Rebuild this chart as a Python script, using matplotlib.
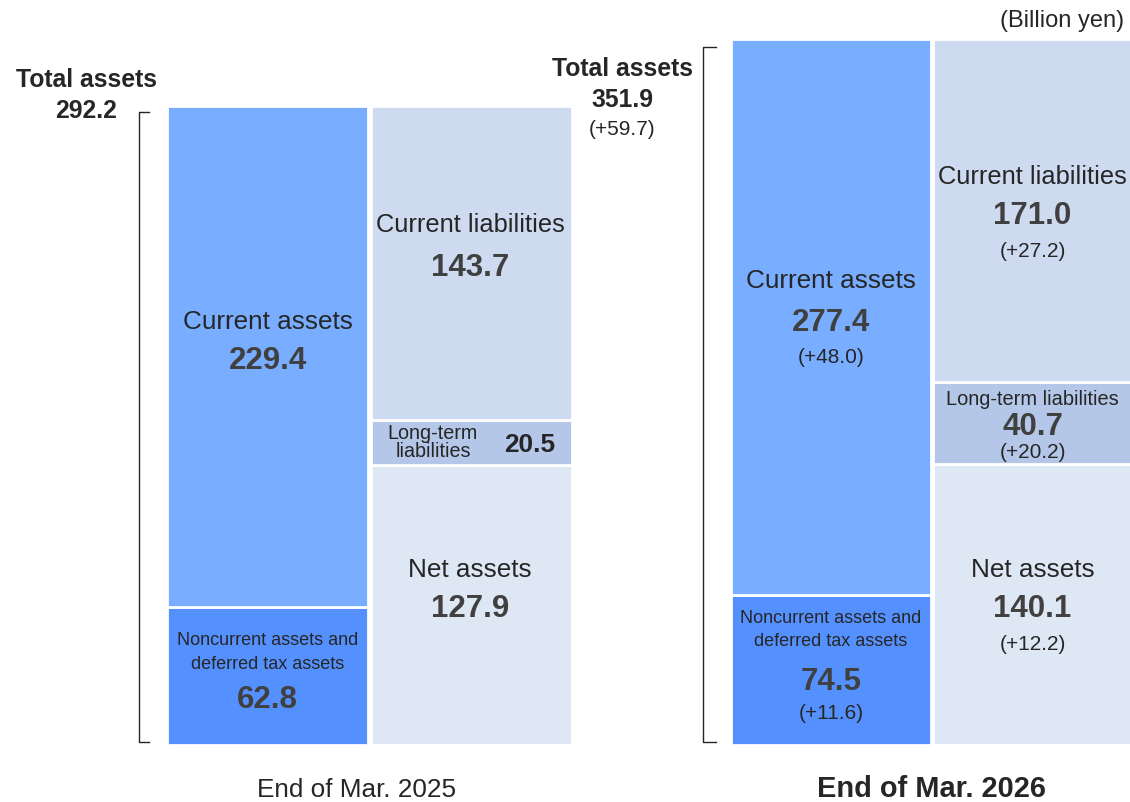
import matplotlib.pyplot as plt
from matplotlib.lines import Line2D

plt.rcParams["font.family"] = ["Liberation Sans", "DejaVu Sans"]

# ---------------------------------------------------------------------------
# Data (billion yen)
# ---------------------------------------------------------------------------
PERIODS = ["End of Mar. 2025", "End of Mar. 2026"]
TOTAL_ASSETS = [292.2, 351.9]
CURRENT_ASSETS = [229.4, 277.4]
NONCURRENT_ASSETS = [62.8, 74.5]
CURRENT_LIAB = [143.7, 171.0]
LONGTERM_LIAB = [20.5, 40.7]
NET_ASSETS = [127.9, 140.1]

# year-on-year changes as printed (2026 only)
CHG_TOTAL = "+59.7"
CHG_CURRENT_ASSETS = "+48.0"
CHG_NONCURRENT = "+11.6"
CHG_CURRENT_LIAB = "+27.2"
CHG_LONGTERM_LIAB = "+20.2"
CHG_NET_ASSETS = "+12.2"

# ---------------------------------------------------------------------------
# Styling
# ---------------------------------------------------------------------------
C_CUR_ASSET = "#78ADFF"
C_NONCUR = "#5590FF"
C_CUR_LIAB = "#CDDAF0"
C_LT_LIAB = "#B4C7E8"
C_NET = "#DEE8F4"
TXT = "#262626"
NUM = "#404040"

W, H = 1130, 802
fig = plt.figure(figsize=(W / 100, H / 100), dpi=100)


def px_rect(left, top, right, bottom):
    """Axes rect in figure fractions from pixel edges (y measured from top)."""
    return [left / W, 1 - bottom / H, (right - left) / W, (bottom - top) / H]


def put(x, y, s, size, bold=False, color=TXT, ha="center"):
    fig.text(x / W, 1 - y / H, s, fontsize=size, ha=ha, va="baseline",
             fontweight="bold" if bold else "normal", color=color)


def draw_group(ax, i):
    kw = dict(width=0.99, edgecolor="white", linewidth=2)
    ax.bar(0, NONCURRENT_ASSETS[i], color=C_NONCUR, **kw)
    ax.bar(0, CURRENT_ASSETS[i], bottom=NONCURRENT_ASSETS[i], color=C_CUR_ASSET, **kw)
    ax.bar(1, NET_ASSETS[i], color=C_NET, **kw)
    ax.bar(1, LONGTERM_LIAB[i], bottom=NET_ASSETS[i], color=C_LT_LIAB, **kw)
    ax.bar(1, CURRENT_LIAB[i], bottom=NET_ASSETS[i] + LONGTERM_LIAB[i],
           color=C_CUR_LIAB, **kw)
    ax.set_xlim(-0.5, 1.5)
    ax.set_ylim(0, TOTAL_ASSETS[i])
    ax.axis("off")


# left group (Mar. 2025) and right group (Mar. 2026), each on its own scale
ax_l = fig.add_axes(px_rect(166.1, 105.6, 572.9, 744.7))
ax_r = fig.add_axes(px_rect(730.0, 38.6, 1133.4, 744.7))
draw_group(ax_l, 0)
draw_group(ax_r, 1)

# brackets for total assets
for xs, ys in [([148.5, 138.7, 138.7, 148.5], [111.7, 111.7, 741.7, 741.7]),
               ([716.0, 702.7, 702.7, 716.0], [47.3, 47.3, 741.7, 741.7])]:
    fig.add_artist(Line2D([x / W for x in xs], [1 - y / H for y in ys],
                          color=TXT, linewidth=1.0))

# --- left group labels ---
put(86, 86.7, "Total assets", 17.8, bold=True)
put(86, 118.3, f"{TOTAL_ASSETS[0]:.1f}", 17.8, bold=True)
put(267.5, 329.3, "Current assets", 18.8)
put(267.5, 369.3, f"{CURRENT_ASSETS[0]:.1f}", 22.5, bold=True, color=NUM)
put(267.5, 645, "Noncurrent assets and", 13)
put(267.5, 669.3, "deferred tax assets", 13)
put(267.5, 707.7, f"{NONCURRENT_ASSETS[0]:.1f}", 22.5, bold=True, color=NUM)
put(470.3, 231.7, "Current liabilities", 18.3)
put(470.3, 276, f"{CURRENT_LIAB[0]:.1f}", 22.5, bold=True, color=NUM)
put(433, 439.3, "Long-term", 14.2)
put(433, 457.3, "liabilities", 14.2)
put(529.5, 451.7, f"{LONGTERM_LIAB[0]:.1f}", 18.9, bold=True, color=TXT)
put(470.3, 576.7, "Net assets", 18.8)
put(470.3, 617, f"{NET_ASSETS[0]:.1f}", 22.5, bold=True, color=NUM)
put(357, 797, PERIODS[0], 18.8)

# --- right group labels ---
put(1124, 26.7, "(Billion yen)", 17, ha="right")
put(622, 76, "Total assets", 17.8, bold=True)
put(622, 107.3, f"{TOTAL_ASSETS[1]:.1f}", 17.8, bold=True)
put(622, 135, f"({CHG_TOTAL})", 15)
put(830.9, 287.7, "Current assets", 18.8)
put(830.9, 330.7, f"{CURRENT_ASSETS[1]:.1f}", 22.5, bold=True, color=NUM)
put(830.9, 363.3, f"({CHG_CURRENT_ASSETS})", 15)
put(830.9, 623.3, "Noncurrent assets and", 13)
put(830.9, 646, "deferred tax assets", 13)
put(830.9, 690, f"{NONCURRENT_ASSETS[1]:.1f}", 22.5, bold=True, color=NUM)
put(830.9, 719.3, f"({CHG_NONCURRENT})", 15)
put(1032.6, 184, "Current liabilities", 18.3)
put(1032.6, 224, f"{CURRENT_LIAB[1]:.1f}", 22.5, bold=True, color=NUM)
put(1032.6, 256.7, f"({CHG_CURRENT_LIAB})", 15)
put(1032.6, 405, "Long-term liabilities", 14.4)
put(1032.6, 435.3, f"{LONGTERM_LIAB[1]:.1f}", 22.5, bold=True, color=NUM)
put(1032.6, 458.3, f"({CHG_LONGTERM_LIAB})", 15)
put(1032.6, 576.7, "Net assets", 18.8)
put(1032.6, 617, f"{NET_ASSETS[1]:.1f}", 22.5, bold=True, color=NUM)
put(1032.6, 650, f"({CHG_NET_ASSETS})", 15)
put(931.3, 797, PERIODS[1], 20.9, bold=True)

fig.savefig("out.png", dpi=100)
